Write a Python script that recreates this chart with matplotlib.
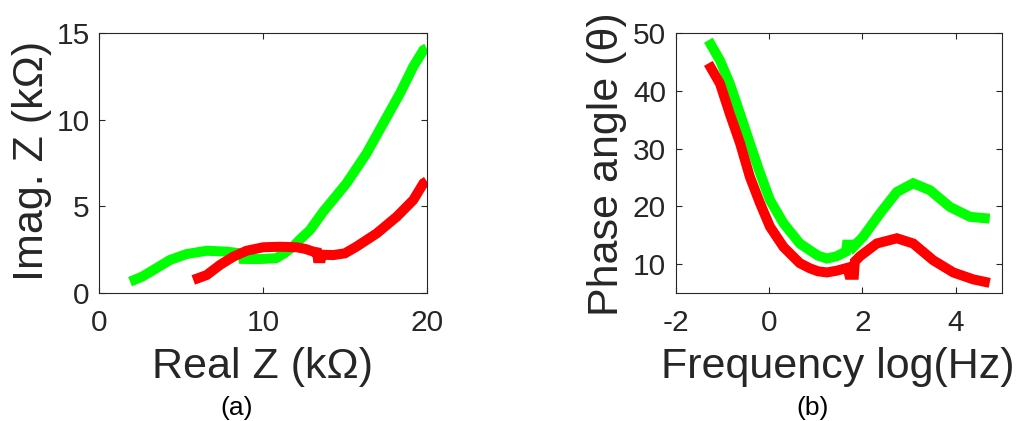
import matplotlib
matplotlib.use('Agg')
import matplotlib.pyplot as plt

plt.rcParams['font.family'] = ['Liberation Sans', 'DejaVu Sans']
plt.rcParams['axes.unicode_minus'] = False

# (a) Nyquist plot, kOhm
green_re = [1.88, 2.6, 3.3, 4.32, 5.34, 6.56, 7.78, 8.6, 8.75, 8.8, 9.8, 10.8, 11.3, 11.85, 12.26, 12.87, 13.68,
            15.1, 16.33, 17.35, 18.37, 19.18, 19.8, 20.0]
green_im = [0.67, 0.95, 1.34, 1.92, 2.26, 2.45, 2.4, 2.3, 2.28, 1.98, 1.97, 2.02, 2.3, 2.7, 3.1, 3.64, 4.7,
            6.33, 8.06, 9.79, 11.51, 13.05, 14.0, 14.1]
red_re = [5.74, 6.56, 7.37, 8.19, 9.0, 10.02, 11.04, 12.06, 12.6, 13.07, 13.3, 13.35, 13.55, 13.6, 14.3, 15.0,
          15.7, 16.95, 18.17, 19.18, 19.8, 20.0]
red_im = [0.77, 1.05, 1.63, 2.11, 2.45, 2.65, 2.68, 2.65, 2.55, 2.4, 2.36, 2.02, 2.02, 2.22, 2.2, 2.3,
          2.68, 3.45, 4.41, 5.37, 6.33, 6.45]

# (b) Bode phase plot
green_logf = [-1.3, -1.05, -0.84, -0.62, -0.41, -0.19, 0.02, 0.31, 0.66, 0.88, 1.05, 1.24, 1.45, 1.65, 1.67,
              1.8, 1.82, 2.02, 2.38, 2.74, 3.09, 3.45, 3.88, 4.31, 4.73]
green_phase = [48.7, 45.2, 41.2, 36.0, 30.9, 25.7, 21.1, 17.1, 13.6, 12.4, 11.5, 11.0, 11.4, 12.2, 13.4,
               13.4, 13.1, 14.8, 18.8, 22.5, 24.0, 22.8, 19.9, 18.2, 17.9]
red_logf = [-1.3, -1.05, -0.84, -0.62, -0.41, -0.19, 0.02, 0.31, 0.66, 0.88, 1.05, 1.24, 1.45, 1.68, 1.72,
            1.82, 1.84, 1.95, 2.31, 2.74, 3.09, 3.52, 3.95, 4.38, 4.73]
red_phase = [44.7, 41.2, 36.0, 30.9, 25.1, 20.5, 16.5, 13.0, 10.2, 9.3, 8.8, 8.6, 8.9, 9.4, 8.2,
             8.2, 10.5, 11.4, 13.6, 14.5, 13.6, 10.7, 8.6, 7.4, 6.8]

INK = '#262626'

fig = plt.figure(figsize=(10.2, 4.21), dpi=100)
H = 421.0
W = 1020.0

def style(ax):
    ax.tick_params(direction='in', length=4, width=0.8, colors=INK, labelsize=21.5,
                   top=True, right=True)
    ax.tick_params(axis='x', pad=11)
    ax.tick_params(axis='y', pad=7)
    for s in ax.spines.values():
        s.set_color(INK)
        s.set_linewidth(0.8)

line_kw = dict(lw=7.2, solid_capstyle='butt', solid_joinstyle='miter')

ax1 = fig.add_axes([99.3 / W, (H - 293.3) / H, 327.4 / W, 260.6 / H])
ax1.plot(green_re, green_im, color='#00ff00', **line_kw)
ax1.plot(red_re, red_im, color='#ff0000', **line_kw)
ax1.set_xlim(0, 20)
ax1.set_ylim(0, 15)
ax1.set_xticks([0, 10, 20])
ax1.set_yticks([0, 5, 10, 15])
style(ax1)

ax2 = fig.add_axes([675.7 / W, (H - 293.3) / H, 326.6 / W, 260.6 / H])
ax2.plot(green_logf, green_phase, color='#00ff00', **line_kw)
ax2.plot(red_logf, red_phase, color='#ff0000', **line_kw)
ax2.set_xlim(-2, 5)
ax2.set_ylim(5, 50)
ax2.set_xticks([-2, 0, 2, 4])
ax2.set_yticks([10, 20, 30, 40, 50])
style(ax2)

fig.text(263 / W, (H - 378) / H, 'Real Z (k\u03a9)', fontsize=31, color=INK, ha='center', va='baseline')
fig.text(838 / W, (H - 378) / H, 'Frequency log(Hz)', fontsize=31, color=INK, ha='center', va='baseline')
fig.text(43 / W, (H - 161) / H, 'Imag. Z (k\u03a9)', fontsize=31, color=INK, rotation=90,
         rotation_mode='anchor', ha='center', va='baseline')
fig.text(618 / W, (H - 164) / H, 'Phase angle (\u03b8)', fontsize=31, color=INK, rotation=90,
         rotation_mode='anchor', ha='center', va='baseline')
fig.text(237 / W, (H - 415) / H, '(a)', fontsize=19, color='black', ha='center', va='baseline')
fig.text(813 / W, (H - 415) / H, '(b)', fontsize=19, color='black', ha='center', va='baseline')

fig.savefig('out.png', dpi=100)
